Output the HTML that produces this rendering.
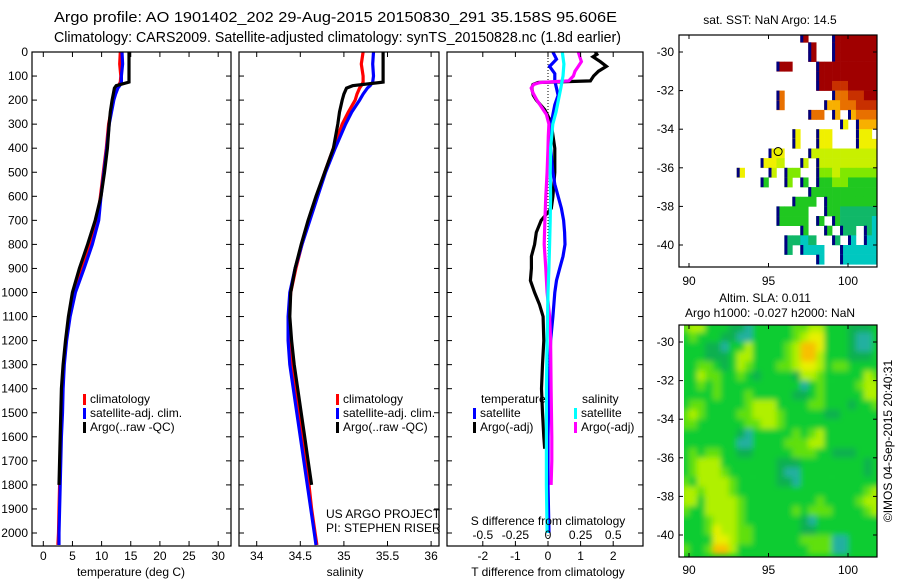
<!DOCTYPE html>
<html><head><meta charset="utf-8">
<style>
html,body{margin:0;padding:0;background:#fff;}
svg{display:block;font-family:"Liberation Sans",sans-serif;}
text{fill:#000;}
</style></head>
<body>
<svg id="fig" width="900" height="580" viewBox="0 0 900 580" xmlns="http://www.w3.org/2000/svg">
<defs>
<clipPath id="c1"><rect x="32" y="52" width="199" height="494"/></clipPath>
<clipPath id="c2"><rect x="239" y="52" width="200" height="494"/></clipPath>
<clipPath id="c3"><rect x="447" y="52" width="196" height="494"/></clipPath>
<clipPath id="cm1"><rect x="679" y="35" width="198" height="232"/></clipPath>
<clipPath id="cm2"><rect x="684" y="325" width="193" height="232"/></clipPath>
<filter id="blur" x="-5%" y="-5%" width="110%" height="110%"><feGaussianBlur stdDeviation="3"/></filter>
</defs>
<text x="54" y="22" font-size="14.5" textLength="563" lengthAdjust="spacingAndGlyphs">Argo profile: AO 1901402_202 29-Aug-2015 20150830_291 35.158S 95.606E</text>
<text x="54" y="42" font-size="14.5" textLength="567" lengthAdjust="spacingAndGlyphs">Climatology: CARS2009. Satellite-adjusted climatology: synTS_20150828.nc (1.8d earlier)</text>
<g id="layer"></g>
</svg>
<script>
// ---------- profile data ----------
const depths = [0,50,100,125,140,150,175,200,250,300,400,500,600,700,800,900,1000,1100,1200,1300,1400,1500,1600,1700,1800,1900,2000,2050];
const tempClim = [13.2,13.1,13.3,13.2,12.9,12.7,12.3,12.0,11.6,11.2,10.8,10.3,9.8,9.3,8.1,6.7,5.3,4.4,3.9,3.5,3.3,3.2,3.0,2.9,2.8,2.7,2.6,2.5];
const tempSat  = [13.5,13.6,13.4,13.4,13.1,12.8,12.4,12.1,11.7,11.3,10.9,10.4,9.9,9.5,8.4,7.0,5.5,4.6,4.0,3.6,3.4,3.3,3.1,3.0,2.9,2.8,2.7,2.7];
const tempArgo = [14.7,14.7,14.7,14.7,12.5,12.2,12.0,11.8,11.5,11.3,11.0,10.5,9.9,8.9,7.6,6.2,5.0,4.3,3.8,3.4,3.1,3.0,2.9,2.8,2.7,null,null,null];
const salClim  = [35.22,35.2,35.22,35.22,35.2,35.18,35.15,35.13,35.05,34.98,34.88,34.78,34.69,34.6,34.52,34.45,34.39,34.37,34.38,34.40,34.44,34.48,34.52,34.56,34.60,34.63,34.67,34.69];
const salSat   = [35.34,35.33,35.34,35.33,35.3,35.27,35.22,35.18,35.09,35.02,34.90,34.79,34.70,34.61,34.52,34.44,34.38,34.36,34.36,34.38,34.42,34.46,34.50,34.54,34.58,34.62,34.66,34.68];
const salArgo  = [35.45,35.45,35.45,35.45,35.1,35.03,35.0,34.98,34.95,34.93,34.88,34.78,34.68,34.59,34.51,34.44,34.39,34.38,34.40,34.43,34.47,34.51,34.55,34.59,34.63,null,null,null];
// ---------- difference panel data ----------
const dDepthArgoT = [0,10,20,40,60,80,100,120,127,135,150,180,200,240,280,300,400,500,600,650,700,750,800,850,900,950,1000,1050,1100,1200,1300,1400,1500,1600,1650];
const dTempArgo   = [1.45,1.5,1.38,1.6,1.79,1.55,1.4,1.3,-0.3,-0.46,-0.5,-0.45,-0.36,-0.1,0.05,0.1,0.21,0.21,0.15,0.1,-0.21,-0.36,-0.41,-0.51,-0.51,-0.54,-0.41,-0.26,-0.15,-0.13,-0.17,-0.2,-0.17,-0.13,-0.1];
const dDepthSatT  = [0,30,60,90,120,150,180,220,260,300,400,500,550,600,650,700,750,800,850,900,950,1000,1100,1200,1400,1600,1800,2000];
const dTempSat    = [0.15,0.26,0.05,0.21,0.21,0.26,0.31,0.21,0.15,0.1,0.08,0.15,0.21,0.31,0.41,0.48,0.51,0.52,0.46,0.36,0.26,0.21,0.15,0.08,0.03,0.0,0.0,0.03];
const dDepthArgoS = [0,20,40,60,80,100,120,127,135,150,170,200,230,260,300,350,400,500,600,700,800,900,1000,1100,1200,1400,1600,1700,1800];
const dSalArgo    = [0.232,0.244,0.256,0.232,0.207,0.195,0.159,-0.061,-0.11,-0.129,-0.115,-0.085,-0.049,-0.012,0.007,0.002,0.0,-0.007,-0.017,-0.024,-0.029,-0.017,-0.007,0.012,0.02,0.024,0.029,0.029,0.024];
const dDepthSatS  = [0,50,100,150,200,250,300,400,500,600,700,800,900,1000,1200,1400,1600,1800,2000];
const dSalSat     = [0.11,0.122,0.115,0.098,0.08,0.061,0.037,0.02,0.017,0.02,0.017,0.012,0.007,0.0,-0.007,-0.012,-0.012,-0.012,-0.007];
// ---------- tick labels ----------
const depthTicks = [0,100,200,300,400,500,600,700,800,900,1000,1100,1200,1300,1400,1500,1600,1700,1800,1900,2000];
const tempTicks = [0,5,10,15,20,25,30];
const salTicks = [34,34.5,35,35.5,36];
const salTickLabels = ["34","34.5","35","35.5","36"];
const tdiffTicks = [-2,-1,0,1,2];
const sdiffTicks = [-0.5,-0.25,0,0.25,0.5];
const lonTicks = [90,95,100];
const latTicks = [-30,-32,-34,-36,-38,-40];
// ---------- map data (0.5 deg cells; rows from -29 southwards, cols from 89.5E) ----------
const sstRows = [
"...............9...999999",
"................9..999999",
"................9..999999",
"............99...99999999",
".................99999999",
".................99889999",
"............7......778899",
"............7.....6677888",
"................77.6.6777",
"....................5.666",
"..............5..55...55",
"..............5..55...555",
"...........55...444444444",
"..........554..4.44444444",
".......5...4.33..33433333",
"..........2..3.2.22332222",
"................222222222",
"..............222.2222222",
"............2222..2211111",
"............2222.2.211110",
"...............2..2.11.10",
".............1101..1.0.00",
".............1.000..00000",
".................0..00000"];
const slaRows = [
"3442221102222233442221112",
"2322211002222234552221002",
"2221102242222346652221002",
"2221112442222346642221112",
"2233212432223345542332222",
"2243322321222214432222243",
"2232322222222220232222344",
"2222322232222211232222244",
"2332222234442222332221223",
"3432222334443222221122222",
"3322222233443222222222222",
"2222222102222232342222222",
"2222222002222333442222222",
"2323322112222233322111222",
"2344422222221112222222212",
"2344432222221002222222212",
"3244443222221102222222222",
"4434443222222222222222234",
"4424444322222222232222344",
"3224444322222232333222234",
"2223444322222221022222222",
"2223544332222221122222222",
"2222554332222223333002222",
"3223664222222222333002222"];
const argoLon = 95.606, argoLat = -35.158;

const NS="http://www.w3.org/2000/svg";
const layer=document.getElementById('layer');
function mk(tag,attrs,parent){const e=document.createElementNS(NS,tag);for(const k in attrs)e.setAttribute(k,attrs[k]);(parent||layer).appendChild(e);return e;}
function txt(x,y,s,size,anchor,parent){const e=mk('text',{x:x,y:y,'font-size':size,'text-anchor':anchor||'start','dominant-baseline':'central'},parent);e.textContent=s;return e;}

// axis functions
const yD = d => 52 + d*0.2405;
const xT = v => 43.3 + v*5.83;
const xS = v => 256.7 + (v-34)*87.2;
const xTd = v => 548 + v*32.6;
const xSd = v => 548 + v*4*32.6;
const xLon = L => 689 + (L-90)*15.9;
const yLat1 = l => 52 + (-30-l)*19.3;
const yLat2 = l => 342 + (-30-l)*19.3;

function frame(x0,y0,w,h,name){
  const r=mk('rect',{x:x0,y:y0,width:w,height:h,fill:'none',stroke:'#000','stroke-width':1.2});
  
  
}
function series(ds,vs,xf,color,clip,name){
  let pts=[];
  for(let i=0;i<ds.length;i++){ if(vs[i]===null)continue; pts.push(xf(vs[i]).toFixed(1)+','+yD(ds[i]).toFixed(1)); }
  const p=mk('polyline',{points:pts.join(' '),fill:'none',stroke:color,'stroke-width':3.2,'stroke-linejoin':'miter','clip-path':'url(#'+clip+')'});
  
  
}
function depthTickMarks(x0,x1,labels){
  depthTicks.forEach(d=>{
    const y=yD(d);
    mk('line',{x1:x0,y1:y,x2:x0+5,y2:y,stroke:'#000'});
    mk('line',{x1:x1-5,y1:y,x2:x1,y2:y,stroke:'#000'});
    if(labels){const t=txt(28,y,String(d),12,'end');
      
      }
  });
}
function xTickMarks(vals,labs,xf,ly){
  vals.forEach((v,i)=>{
    const x=xf(v);
    mk('line',{x1:x,y1:546,x2:x,y2:541,stroke:'#000'});
    mk('line',{x1:x,y1:52,x2:x,y2:57,stroke:'#000'});
    const t=txt(x,ly,labs[i],12,'middle');
    
    
  });
}
function legend(x,y,color,label,name){
  const r=mk('rect',{x:x,y:y-5,width:3,height:11,fill:color});
  const t=txt(x+7,y,label,12);
  
  
}

// ---- Panel 1: temperature ----
series(depths,tempClim,xT,'#ff0000','c1','temp-climatology-line');
series(depths,tempSat,xT,'#0000ff','c1','temp-satellite-line');
series(depths,tempArgo,xT,'#000000','c1','temp-argo-line');
frame(32,52,199,494,'temperature-panel');
depthTickMarks(32,231,true);
xTickMarks(tempTicks,tempTicks.map(String),xT,556);
let t=txt(131,572,'temperature (deg C)',12,'middle');


legend(83,399,'#ff0000','climatology','legend-climatology');
legend(83,413,'#0000ff','satellite-adj. clim.','legend-satellite-adj');
legend(83,427,'#000000','Argo(..raw -QC)','legend-argo');

// ---- Panel 2: salinity ----
series(depths,salClim,xS,'#ff0000','c2','sal-climatology-line');
series(depths,salSat,xS,'#0000ff','c2','sal-satellite-line');
series(depths,salArgo,xS,'#000000','c2','sal-argo-line');
frame(239,52,200,494,'salinity-panel');
depthTickMarks(239,439,false);
xTickMarks(salTicks,salTickLabels,xS,556);
t=txt(345,572,'salinity',12,'middle');


legend(336,399,'#ff0000','climatology','legend-climatology-2');
legend(336,413,'#0000ff','satellite-adj. clim.','legend-satellite-adj-2');
legend(336,427,'#000000','Argo(..raw -QC)','legend-argo-2');
t=txt(326,514,'US ARGO PROJECT',12);


t=txt(326,528,'PI: STEPHEN RISER',12);



// ---- Panel 3: differences ----
mk('line',{x1:xTd(0),y1:52,x2:xTd(0),y2:546,stroke:'#000','stroke-dasharray':'1,2'});
series(dDepthArgoT,dTempArgo,xTd,'#000000','c3','tdiff-argo-line');
series(dDepthSatT,dTempSat,xTd,'#0000ff','c3','tdiff-satellite-line');
series(dDepthArgoS,dSalArgo,xSd,'#ff00ff','c3','sdiff-argo-line');
series(dDepthSatS,dSalSat,xSd,'#00ffff','c3','sdiff-satellite-line');
frame(447,52,196,494,'difference-panel');
depthTickMarks(447,643,false);
xTickMarks(tdiffTicks,tdiffTicks.map(String),xTd,556);
sdiffTicks.forEach(v=>{const tt=txt(xSd(v),535,String(v),12,'middle');
  
  });
t=txt(548,521,'S difference from climatology',12,'middle');


t=txt(548,572,'T difference from climatology',12,'middle');


t=txt(481,399,'temperature',12);


t=txt(582,399,'salinity',12);


legend(473,413,'#0000ff','satellite','legend-t-satellite');
legend(473,427,'#000000','Argo(-adj)','legend-t-argo');
legend(574,413,'#00ffff','satellite','legend-s-satellite');
legend(574,427,'#ff00ff','Argo(-adj)','legend-s-argo');

// ---- Map 1: SST ----
const sstColors=['#00c8c0','#10b868','#20c820','#80e800','#c8f000','#f0f000','#f8b000','#e87000','#c83000','#a00000'];
const g1=mk('g',{'clip-path':'url(#cm1)'});


sstRows.forEach((row,j)=>{
  for(let i=0;i<row.length;i++){
    const ch=row[i]; if(ch==='.')continue;
    const lonL=89.5+0.5*i, latT=-29-0.5*j;
    const x=xLon(lonL), y=yLat1(latT), w=xLon(lonL+0.5)-x, h=yLat1(latT-0.5)-y;
    const c=mk('rect',{x:x,y:y,width:w+0.3,height:h+0.3,fill:sstColors[+ch]},g1);
    
    
    if(i===0||row[i-1]==='.'){mk('rect',{x:x,y:y,width:3,height:h,fill:'#000080'},g1);}
  }
});
const ac=mk('circle',{cx:xLon(argoLon),cy:yLat1(argoLat),r:4,fill:'#e8f000',stroke:'#000','stroke-width':1});


frame(679,35,198,232,'sst-map-frame');
t=txt(770,20,'sat. SST: NaN Argo: 14.5',12,'middle');



// ---- Map 2: SLA ----
const slaColors=['#20b0a0','#10b050','#10cc30','#60e010','#b0f000','#e8f000','#f8c000'];
const g2o=mk('g',{'clip-path':'url(#cm2)'});
mk('rect',{x:679,y:325,width:198,height:232,fill:slaColors[2]},g2o);
const g2=mk('g',{filter:'url(#blur)'},g2o);


slaRows.forEach((row,j)=>{
  for(let i=0;i<row.length;i++){
    const ch=row[i];
    const lonL=89.5+0.5*i, latT=-29-0.5*j;
    const x=xLon(lonL), y=yLat2(latT), w=xLon(lonL+0.5)-x, h=yLat2(latT-0.5)-y;
    const c=mk('rect',{x:x,y:y,width:w+0.3,height:h+0.3,fill:slaColors[+ch]},g2);
    
    
  }
});
frame(679,325,198,232,'sla-map-frame');
t=txt(765,298,'Altim. SLA: 0.011',12,'middle');


t=txt(770,313,'Argo h1000: -0.027 h2000: NaN',12,'middle');



// map ticks
[[yLat1,35,267,281],[yLat2,325,557,570]].forEach(([yf,top,bot,ly])=>{
  lonTicks.forEach(L=>{const x=xLon(L);
    mk('line',{x1:x,y1:bot,x2:x,y2:bot-4,stroke:'#000'});
    mk('line',{x1:x,y1:top,x2:x,y2:top+4,stroke:'#000'});
    const tt=txt(x,ly,String(L),12,'middle');
    
    });
  latTicks.forEach(l=>{const y=yf(l);
    mk('line',{x1:679,y1:y,x2:683,y2:y,stroke:'#000'});
    mk('line',{x1:873,y1:y,x2:877,y2:y,stroke:'#000'});
    const tt=txt(674,y,String(l),12,'end');
    
    });
});
t=mk('text',{x:0,y:0,'font-size':12,'text-anchor':'middle','dominant-baseline':'central',transform:'translate(888,441) rotate(-90)'});
t.textContent='\u00a9IMOS 04-Sep-2015 20:40:31';


</script>
</body></html>
